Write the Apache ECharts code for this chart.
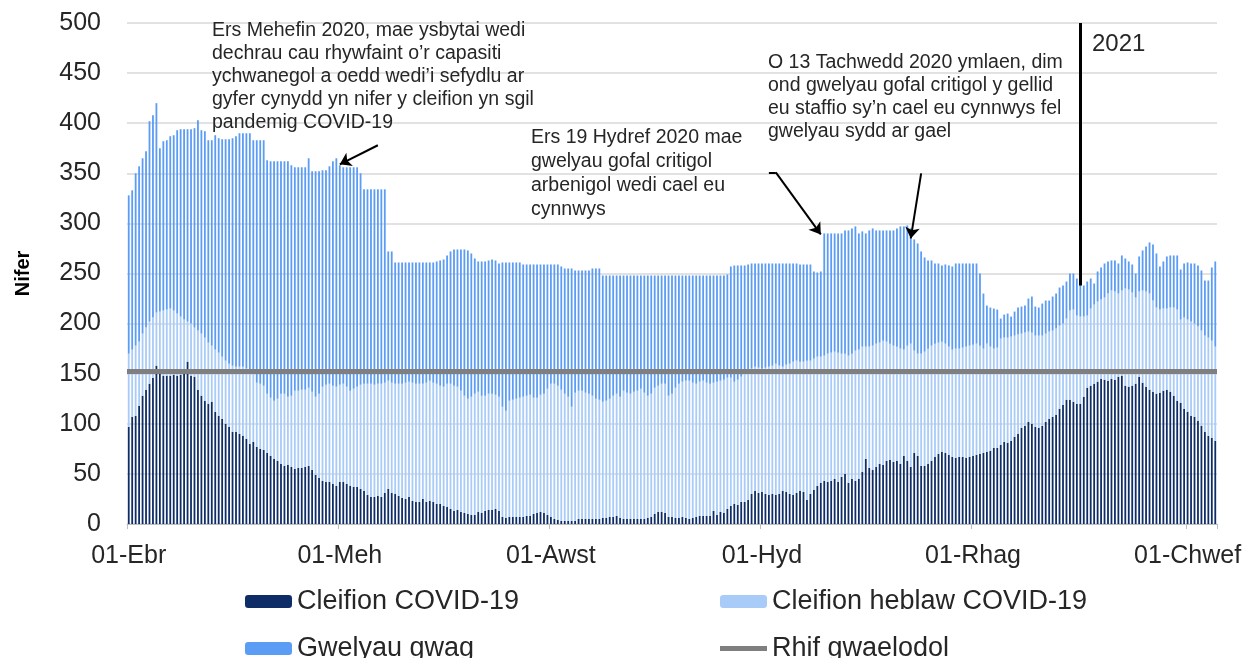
<!DOCTYPE html>
<html>
<head>
<meta charset="utf-8">
<script src="https://cdn.jsdelivr.net/npm/echarts@6/dist/echarts.min.js"></script>
<style>
  html, body { margin: 0; padding: 0; background: #fff; }
  #chart { width: 1258px; height: 658px; }
</style>
</head>
<body>
<div id="chart"></div>
<script>
// daily values, 01 Apr 2020 to 09 Feb 2021
const covidPatients = [
  97,107,108,118,128,134,140,146,158,150,
  148,148,148,149,148,149,150,162,148,147,
  134,128,123,120,122,112,108,105,100,97,
  92,92,90,88,85,80,82,77,75,74,
  71,68,65,63,60,58,59,57,55,56,
  56,57,58,54,49,46,43,42,42,40,
  38,42,42,40,38,37,37,35,33,29,
  27,27,28,27,31,35,31,30,28,26,
  25,27,23,22,22,25,22,23,22,20,
  20,18,17,15,13,14,12,11,10,9,
  9,12,11,13,14,14,15,13,7,6,
  7,7,7,7,7,8,8,10,11,12,
  11,9,7,5,4,3,3,3,3,3,
  5,5,5,5,5,5,5,6,6,7,
  7,8,6,5,5,5,5,5,5,5,
  6,7,10,12,12,11,7,7,6,6,
  7,6,5,6,7,8,8,8,8,13,
  9,12,11,15,18,20,19,22,22,24,
  30,33,31,32,30,29,30,29,30,33,
  32,30,29,31,33,32,24,30,34,38,
  41,43,42,43,45,42,47,50,41,45,
  43,45,52,65,56,54,57,60,59,63,
  64,62,63,60,68,63,57,71,68,58,
  58,60,63,67,70,72,71,69,67,66,
  67,67,66,67,68,69,70,71,72,73,
  76,76,79,82,81,83,87,90,96,98,
  102,100,97,96,98,102,105,107,109,115,
  119,124,124,122,120,120,127,136,138,140,
  142,145,144,143,145,144,147,148,138,137,
  138,140,147,141,137,134,132,130,131,133,
  134,132,128,123,121,115,112,108,107,103,
  98,92,88,86,83
];

// all patients (COVID + non-COVID)
const allPatients = [
  170,174,178,182,190,196,202,206,211,212,
  213,214,215,213,210,207,204,202,200,196,
  193,190,186,181,178,174,171,167,163,160,
  158,157,157,157,155,153,150,141,140,138,
  130,126,123,125,130,130,127,128,133,133,
  134,134,136,132,127,130,137,139,140,138,
  137,139,140,137,133,135,137,139,140,140,
  140,139,140,140,141,143,141,140,140,140,
  141,142,141,140,140,140,141,143,141,140,
  138,137,140,140,138,137,133,128,125,127,
  130,132,128,128,130,130,129,127,117,113,
  123,124,125,126,127,128,129,126,126,129,
  130,135,140,140,138,134,130,127,117,131,
  133,133,131,130,128,125,124,122,123,125,
  128,130,127,133,131,130,132,133,135,131,
  128,130,136,138,140,140,128,130,136,140,
  142,143,143,141,140,142,143,141,140,141,
  142,143,144,146,146,142,144,147,150,152,
  155,157,156,155,156,157,158,160,158,157,
  159,160,162,163,162,162,163,163,165,167,
  167,168,170,171,172,171,170,170,168,170,
  173,174,177,177,177,178,180,181,183,182,
  180,178,177,175,174,178,180,173,170,170,
  172,175,178,180,181,182,180,177,174,175,
  175,176,177,178,179,180,178,175,180,177,
  175,176,185,186,186,187,188,189,190,191,
  192,191,188,188,188,190,192,193,195,198,
  200,205,213,214,208,207,207,208,215,219,
  222,224,226,230,233,232,230,233,235,234,
  231,226,232,233,232,230,223,216,214,215,
  215,216,216,214,204,206,204,202,200,197,
  193,188,186,183,177
];

// beds available (occupied + empty)
const bedsAvailable = [
  328,333,350,357,365,372,402,408,420,375,
  382,383,387,388,393,394,394,394,394,395,
  403,393,392,383,383,388,385,384,384,384,
  385,387,390,390,390,390,383,383,383,383,
  363,362,362,362,362,362,362,358,356,356,
  356,356,365,352,352,352,353,353,357,362,
  365,358,356,356,356,356,356,350,334,334,
  334,334,334,334,334,272,272,261,261,261,
  261,261,261,261,261,261,261,261,261,262,
  263,264,268,272,274,274,274,274,273,270,
  265,262,262,262,263,264,263,260,261,261,
  261,261,261,261,259,259,259,259,259,259,
  259,259,259,259,259,257,255,255,255,253,
  253,253,253,253,255,255,255,248,248,248,
  248,248,248,248,248,248,248,248,248,248,
  248,248,248,248,248,248,248,248,248,248,
  248,248,248,248,248,248,248,248,248,248,
  248,248,248,249,257,258,258,258,258,259,
  260,260,260,260,260,260,260,260,260,260,
  260,260,260,260,259,259,259,259,252,251,
  252,290,290,290,290,290,290,293,293,295,
  297,290,292,290,293,295,293,293,293,293,
  293,293,295,297,297,298,295,284,280,272,
  266,263,263,260,260,258,259,258,257,260,
  260,260,260,260,260,260,250,230,218,216,
  215,214,205,209,210,207,212,216,217,218,
  225,227,217,216,220,223,223,227,230,236,
  238,242,250,250,245,240,238,242,245,240,
  252,256,260,262,263,263,260,268,265,262,
  259,250,267,273,277,281,279,270,257,262,
  267,268,268,268,254,260,261,260,260,258,
  253,243,243,256,262
];

const baseline = 152;

const monthNames = ['Ion','Chwef','Maw','Ebr','Mai','Meh','Gorff','Awst','Medi','Hyd','Tach','Rhag'];
const tickLabels = ['01-Ebr', '01-Meh', '01-Awst', '01-Hyd', '01-Rhag', '01-Chwef'];

// category labels, one per day
const days = covidPatients.map((v, i) => {
  const d = new Date(Date.UTC(2020, 3, 1) + i * 86400000);
  return String(d.getUTCDate()).padStart(2, '0') + '-' + monthNames[d.getUTCMonth()];
});

const nonCovidPatients = allPatients.map((v, i) => v - covidPatients[i]);
const emptyBeds = bedsAvailable.map((v, i) => v - allPatients[i]);

const chart = echarts.init(document.getElementById('chart'));

const font = 'Arial, "Liberation Sans", sans-serif';
const showTick = (idx, val) => tickLabels.includes(val);

const arrowStyle = { color: '#000', width: 2, type: 'solid' };
const legendText = { fontSize: 27, color: '#262626', lineHeight: 24 };

const option = {
  animation: false,
  textStyle: { fontFamily: font, color: '#262626' },
  grid: { left: 127, right: 41, top: 23, bottom: 134 },
  legend: [
    {
      data: ['Cleifion COVID-19', 'Gwelyau gwag'],
      orient: 'vertical', left: 245, top: 588, height: 100, padding: 0,
      itemWidth: 47, itemHeight: 13, itemGap: 20,
      textStyle: legendText
    },
    {
      data: [
        'Cleifion heblaw COVID-19',
        { name: 'Rhif gwaelodol', icon: 'path://M0,0 L47,0 L47,5 L0,5 Z' }
      ],
      orient: 'vertical', left: 720, top: 588, height: 100, padding: 0,
      itemWidth: 47, itemHeight: 13, itemGap: 20,
      textStyle: legendText
    }
  ],
  xAxis: {
    type: 'category',
    data: days,
    boundaryGap: true,
    axisLine: { lineStyle: { color: '#bfbfbf', width: 1 } },
    axisTick: { show: true, interval: showTick, length: 5, lineStyle: { color: '#bfbfbf' } },
    axisLabel: { interval: showTick, fontSize: 25, color: '#262626', margin: 20 },
    splitLine: { show: false }
  },
  yAxis: {
    type: 'value',
    min: 0, max: 500, interval: 50,
    name: 'Nifer',
    nameLocation: 'middle',
    nameGap: 94,
    nameTextStyle: { fontSize: 20, fontWeight: 'bold', color: '#000' },
    axisLine: { show: false },
    axisTick: { show: false },
    axisLabel: { fontSize: 25, color: '#262626', margin: 26 },
    splitLine: { lineStyle: { color: '#d9d9d9', width: 1.5 } }
  },
  series: [
    {
      name: 'Cleifion COVID-19',
      type: 'bar', stack: 'beds',
      data: covidPatients,
      barCategoryGap: '48%',
      itemStyle: { color: '#0e2c66' }
    },
    {
      name: 'Cleifion heblaw COVID-19',
      type: 'bar', stack: 'beds',
      data: nonCovidPatients,
      itemStyle: { color: '#a9cbf8' }
    },
    {
      name: 'Gwelyau gwag',
      type: 'bar', stack: 'beds',
      data: emptyBeds,
      itemStyle: { color: '#5b9cf5' },
      markLine: {
        silent: true,
        symbol: ['none', 'arrow'],
        symbolSize: 11,
        label: { show: false },
        lineStyle: arrowStyle,
        data: [
          [{ coord: [days[72], 378] }, { coord: [days[61], 359] }],
          [{ coord: [days[185], 351], symbol: 'none' }, { coord: [days[187], 351], symbol: 'none' }],
          [{ coord: [days[187], 351] }, { coord: [days[200], 289] }],
          [{ coord: [days[229], 350] }, { coord: [days[226], 285] }],
          [{ coord: [days[275], 500], symbol: 'none' },
           { coord: [days[275], 238], symbol: 'none', lineStyle: { width: 3 } }]
        ]
      }
    },
    {
      name: 'Rhif gwaelodol',
      type: 'line',
      data: [],
      symbol: 'none',
      lineStyle: { color: '#7f7f7f', width: 5 },
      itemStyle: { color: '#7f7f7f' },
      markLine: {
        silent: true,
        symbol: 'none',
        label: { show: false },
        lineStyle: { color: '#7f7f7f', width: 5, type: 'solid' },
        data: [{ yAxis: baseline }]
      }
    }
  ],
  graphic: [
    {
      type: 'text', left: 212, top: 19, z: 10,
      style: {
        text: 'Ers Mehefin 2020, mae ysbytai wedi\ndechrau cau rhywfaint o\u2019r capasiti\nychwanegol a oedd wedi\u2019i sefydlu ar\ngyfer cynydd yn nifer y cleifion yn sgil\npandemig COVID-19',
        font: '19.5px ' + font, lineHeight: 23, fill: '#262626'
      }
    },
    {
      type: 'text', left: 531, top: 126, z: 10,
      style: {
        text: 'Ers 19 Hydref 2020 mae\ngwelyau gofal critigol\narbenigol wedi cael eu\ncynnwys',
        font: '19.5px ' + font, lineHeight: 24, fill: '#262626'
      }
    },
    {
      type: 'text', left: 768, top: 51, z: 10,
      style: {
        text: 'O 13 Tachwedd 2020 ymlaen, dim\nond gwelyau gofal critigol y gellid\neu staffio sy\u2019n cael eu cynnwys fel\ngwelyau sydd ar gael',
        font: '19.5px ' + font, lineHeight: 23, fill: '#262626'
      }
    },
    {
      type: 'text', left: 1092, top: 32, z: 10,
      style: { text: '2021', font: '24px ' + font, fill: '#262626' }
    }
  ]
};

chart.setOption(option);
</script>
</body>
</html>
